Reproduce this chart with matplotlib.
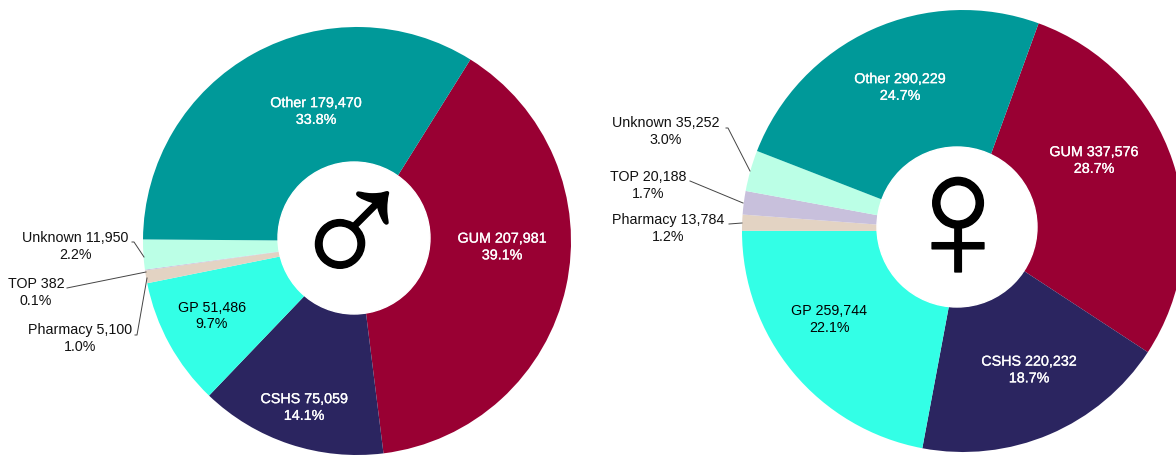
import numpy as np
import matplotlib
matplotlib.use("Agg")
import matplotlib.pyplot as plt
import matplotlib.patheffects as pe
from matplotlib.patches import Circle

W, H = 1176, 455

categories = ["GUM", "CSHS", "GP", "Pharmacy", "TOP", "Unknown", "Other"]
colors = ["#990033", "#2B2560", "#33FFE6", "#E3D3C3", "#C8C0DC", "#BBFFE6", "#009999"]

male_values = [207981, 75059, 51486, 5100, 382, 11950, 179470]
male_pcts = ["39.1%", "14.1%", "9.7%", "1.0%", "0.1%", "2.2%", "33.8%"]
female_values = [337576, 220232, 259744, 13784, 20188, 35252, 290229]
female_pcts = ["28.7%", "18.7%", "22.1%", "1.2%", "1.7%", "3.0%", "24.7%"]

plt.rcParams["font.family"] = ["Liberation Sans", "DejaVu Sans"]

fig = plt.figure(figsize=(W / 100, H / 100), dpi=100)
ax = fig.add_axes([0, 0, 1, 1])


def draw_donut(center, r, hole, values, pcts, start, symbol, inner, outer):
    # y axis is flipped later, so counterclock here reads clockwise on screen
    wedges, _ = ax.pie(values, colors=colors, startangle=start, counterclock=True,
                       center=center, radius=r, frame=False)
    ax.add_patch(Circle(hole[:2], hole[2], color="white", zorder=3))
    for i, w in enumerate(wedges):
        label = f"{categories[i]} {values[i]:,}\n{pcts[i]}"
        if i in inner:
            tx, ty, col = inner[i]
            t = ax.text(tx, ty + 0.5, label, color=col, fontsize=10.3, ha="center", va="center",
                        linespacing=1.25, zorder=4)
            if col == "white":
                # source labels look a bit heavier than regular but not bold
                t.set_path_effects([pe.withStroke(linewidth=0.2, foreground="white")])
        else:
            tx, ty, pts = outer[i]
            ax.text(tx, ty + 0.5, label, color="#111111", fontsize=10.3, ha="center", va="center",
                    linespacing=1.25, zorder=4)
            ax.plot(pts[0], pts[1], color="#444444", lw=0.7, zorder=4)
    s = ax.text(symbol[1], symbol[2], symbol[0], fontsize=symbol[3], color="black", ha="center",
                va="center", family="Liberation Sans", zorder=5)
    s.set_path_effects([pe.withStroke(linewidth=1.0, foreground="black")])


male_inner = {0: (502, 246.5, "white"), 1: (304, 407, "white"), 2: (212, 315.5, "black"), 6: (316, 111, "white")}
male_outer = {3: (80, 338, ([135, 137, 147], [335, 335, 278])),
              4: (36, 292, ([67, 146], [288, 272])),
              5: (75, 246, ([132, 134, 144], [242, 242, 257]))}
draw_donut((357, 241), 214, (354, 238, 76), male_values, male_pcts, -58,
           ("\u2642", 352, 244, 125), male_inner, male_outer)

female_inner = {0: (1094, 160, "white"), 1: (1029, 369.5, "white"), 2: (829, 319, "black"), 6: (900, 87, "white")}
female_outer = {3: (668, 228, ([729, 742], [224, 223])),
                4: (648, 185, ([690, 743], [181, 203])),
                5: (666, 131, ([726, 728, 750], [128, 128, 171]))}
draw_donut((963, 231), 221, (957, 227, 80), female_values, female_pcts, -70,
           ("\u2640", 958, 232, 130), female_inner, female_outer)

ax.set_xlim(0, W)
ax.set_ylim(H, 0)
ax.set_aspect("auto")
ax.axis("off")

fig.savefig("out.png", dpi=100)
